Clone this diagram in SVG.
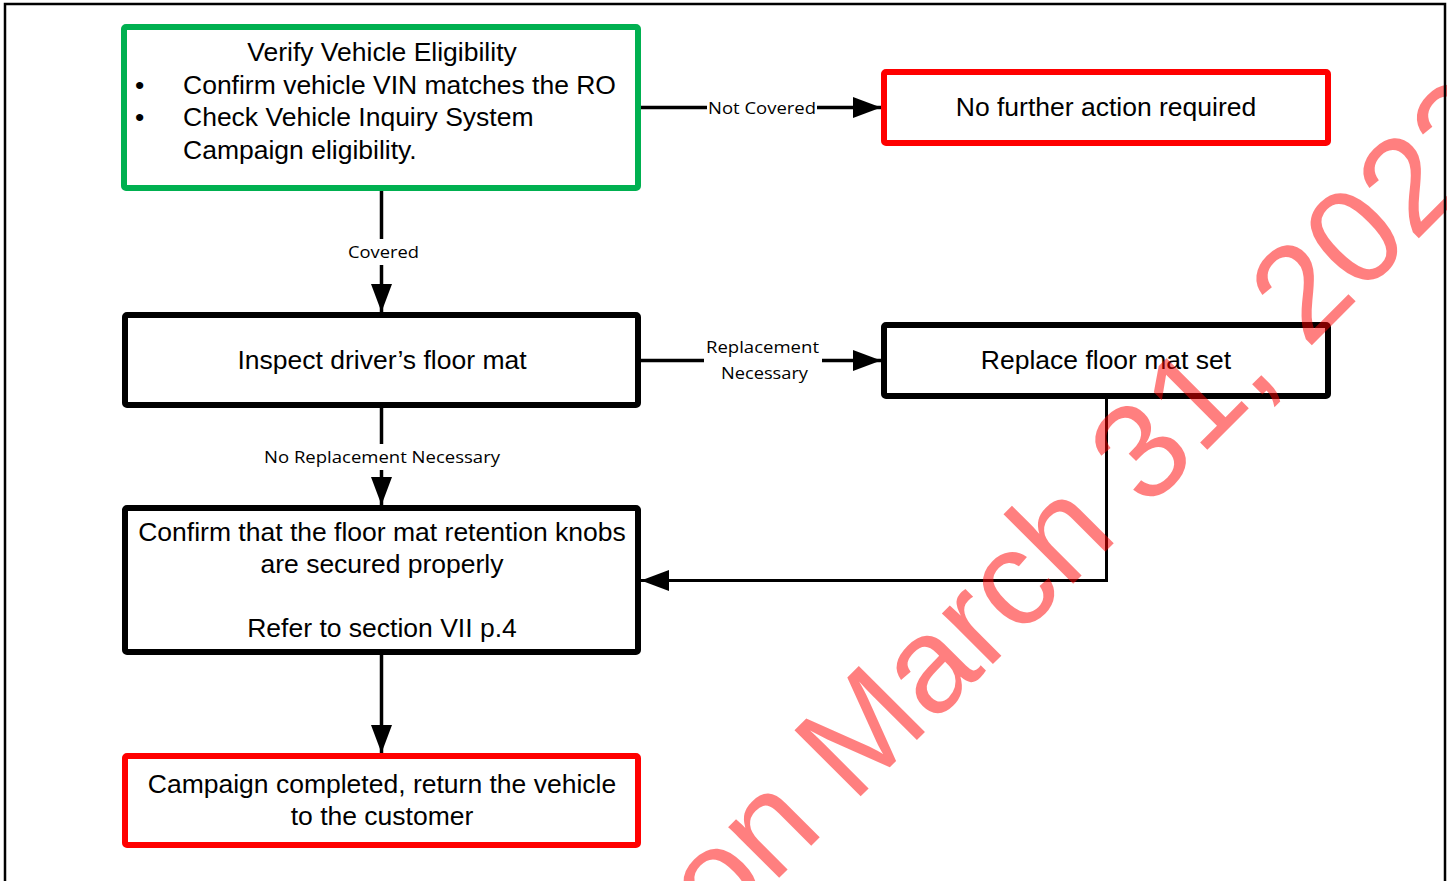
<svg xmlns="http://www.w3.org/2000/svg" width="1447" height="881" viewBox="0 0 1447 881">
<style>
.box{fill:#fff;stroke:#000;stroke-width:6}
.green{stroke:#00b050}
.red{stroke:#ff0000}
.t{font-family:"Liberation Sans",Arial,sans-serif;font-size:26.5px;fill:#000}
.c{text-anchor:middle}
.lbl{font-family:"Open Sans","Noto Sans",sans-serif;font-size:17px;fill:#000;text-anchor:middle}
.conn{fill:none;stroke:#000;stroke-width:3.5}
.thin{stroke-width:3}
.wm{font-family:"Liberation Sans",Arial,sans-serif;font-size:136px;fill:#ff0000;fill-opacity:0.5}
</style>
<defs>
<marker id="arr" viewBox="0 0 28 21" refX="28" refY="10.5" markerWidth="28" markerHeight="21" markerUnits="userSpaceOnUse" orient="auto">
<path d="M0,0 L28,10.5 L0,21 Z" fill="#000"/>
</marker>
</defs>
<rect x="0" y="0" width="1447" height="881" fill="#fff"/>

<g id="connectors">
<path class="conn" d="M641,107.5 L881,107.5" marker-end="url(#arr)"/>
<path class="conn" d="M381.5,191 L381.5,312" marker-end="url(#arr)"/>
<path class="conn" d="M641,360.5 L881,360.5" marker-end="url(#arr)"/>
<path class="conn" d="M381.5,408 L381.5,505" marker-end="url(#arr)"/>
<path class="conn thin" d="M1106.5,399 L1106.5,580.5 L641,580.5" marker-end="url(#arr)"/>
<path class="conn" d="M381.5,655 L381.5,753" marker-end="url(#arr)"/>
<rect x="707" y="97" width="110" height="22" fill="#fff"/>
<text class="lbl" x="762" y="114" textLength="108" lengthAdjust="spacingAndGlyphs">Not Covered</text>
<rect x="345" y="239" width="78" height="26" fill="#fff"/>
<text class="lbl" x="383.5" y="258" textLength="71" lengthAdjust="spacingAndGlyphs">Covered</text>
<rect x="704" y="336" width="118" height="46" fill="#fff"/>
<text class="lbl" x="762.5" y="353" textLength="113" lengthAdjust="spacingAndGlyphs">Replacement</text>
<text class="lbl" x="764.5" y="379" textLength="87" lengthAdjust="spacingAndGlyphs">Necessary</text>
<rect x="262" y="444" width="240" height="26" fill="#fff"/>
<text class="lbl" x="382" y="463" textLength="236" lengthAdjust="spacingAndGlyphs">No Replacement Necessary</text>
</g>

<g id="verify">
<rect class="box green" x="124" y="27" width="514" height="161" rx="2"/>
<text class="t c" x="382" y="61">Verify Vehicle Eligibility</text>
<text class="t" x="135" y="93.5">•</text>
<text class="t" x="183" y="93.5">Confirm vehicle VIN matches the RO</text>
<text class="t" x="135" y="126">•</text>
<text class="t" x="183" y="126">Check Vehicle Inquiry System</text>
<text class="t" x="183" y="158.5">Campaign eligibility.</text>
</g>

<g id="no-action">
<rect class="box red" x="884" y="72" width="444" height="71" rx="2"/>
<text class="t c" x="1106" y="116">No further action required</text>
</g>

<g id="inspect">
<rect class="box" x="125" y="315" width="513" height="90" rx="2"/>
<text class="t c" x="382" y="369">Inspect driver’s floor mat</text>
</g>

<g id="replace">
<rect class="box" x="884" y="325" width="444" height="71" rx="2"/>
<text class="t c" x="1106" y="369">Replace floor mat set</text>
</g>

<g id="confirm">
<rect class="box" x="125" y="508" width="513" height="144" rx="2"/>
<text class="t c" x="382" y="540.5">Confirm that the floor mat retention knobs</text>
<text class="t c" x="382" y="573">are secured properly</text>
<text class="t c" x="382" y="637">Refer to section VII p.4</text>
</g>

<g id="campaign">
<rect class="box red" x="125" y="756" width="513" height="89" rx="2"/>
<text class="t c" x="382" y="793">Campaign completed, return the vehicle</text>
<text class="t c" x="382" y="825">to the customer</text>
</g>

<text class="wm" transform="translate(719,938) rotate(-45)">on March 31, 2022</text>
<rect x="5" y="4" width="1440" height="900" fill="none" stroke="#000" stroke-width="2.5"/>
</svg>
